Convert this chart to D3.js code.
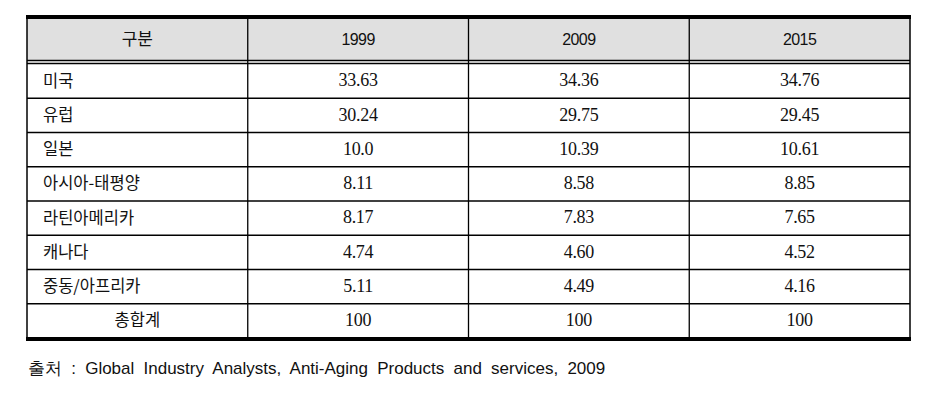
<!DOCTYPE html>
<html><head><meta charset="utf-8">
<script src="https://cdn.jsdelivr.net/npm/d3@7/dist/d3.min.js"></script>
<style>body{margin:0;background:#fff}</style>
</head><body>
<svg id="c" width="932" height="402"></svg>
<script>
const headers = ["구분", "1999", "2009", "2015"];
const regions = ["미국", "유럽", "일본", "아시아-태평양", "라틴아메리카", "캐나다", "중동/아프리카", "총합계"];
const v1999 = ["33.63", "30.24", "10.0", "8.11", "8.17", "4.74", "5.11", "100"];
const v2009 = ["34.36", "29.75", "10.39", "8.58", "7.83", "4.60", "4.49", "100"];
const v2015 = ["34.76", "29.45", "10.61", "8.85", "7.65", "4.52", "4.16", "100"];
const source = "출처 : Global Industry Analysts, Anti-Aging Products and services, 2009";

const svg = d3.select("#c");
const L = 27, R = 910, T = 15, HB = 60, RT = 64, B = 338;
const x = d3.scaleBand().domain(d3.range(headers.length)).range([L, R]);
const y = d3.scaleBand().domain(d3.range(regions.length)).range([RT, B]);
const sans = "'Liberation Sans', Arial, sans-serif";
const kr = "'Noto Sans CJK KR', sans-serif";
const serif = "'Liberation Serif', 'DejaVu Serif', serif";

// header fill
svg.append("rect").attr("x", L).attr("y", T).attr("width", R - L).attr("height", HB - T).attr("fill", "#e0e0e0");

// horizontal row lines
y.domain().slice(1).forEach(i => {
  svg.append("line").attr("x1", L).attr("x2", R).attr("y1", y(i)).attr("y2", y(i)).attr("stroke", "#000").attr("stroke-width", 1.3);
});
// header double line
[HB + 0.5, RT - 0.5].forEach(yy => svg.append("line").attr("x1", L).attr("x2", R).attr("y1", yy).attr("y2", yy).attr("stroke", "#000").attr("stroke-width", 1.3));
// vertical lines
x.domain().slice(1).forEach(i => {
  svg.append("line").attr("x1", x(i)).attr("x2", x(i)).attr("y1", T).attr("y2", B).attr("stroke", "#000").attr("stroke-width", 1.3);
});
svg.append("line").attr("x1", L).attr("x2", L).attr("y1", T).attr("y2", B + 2).attr("stroke", "#000").attr("stroke-width", 1.5);
svg.append("line").attr("x1", R).attr("x2", R).attr("y1", T).attr("y2", B + 2).attr("stroke", "#000").attr("stroke-width", 1.5);
// thick top/bottom
svg.append("line").attr("x1", L - 1).attr("x2", R + 1).attr("y1", T + 2).attr("y2", T + 2).attr("stroke", "#000").attr("stroke-width", 4);
svg.append("line").attr("x1", L - 1).attr("x2", R + 1).attr("y1", B + 1).attr("y2", B + 1).attr("stroke", "#000").attr("stroke-width", 4);

// header text
headers.forEach((h, i) => {
  svg.append("text").attr("x", x(i) + x.bandwidth() / 2).attr("y", (T + HB) / 2 + 3)
    .attr("text-anchor", "middle").attr("dominant-baseline", "middle")
    .attr("font-family", i === 0 ? kr : sans).attr("font-size", i === 0 ? 17 : 16)
    .attr("letter-spacing", i === 0 ? 0 : -0.6)
    .attr("fill", "#111").text(h);
});

// body
const cols = [v1999, v2009, v2015];
regions.forEach((r, j) => {
  const cy = y(j) + y.bandwidth() / 2;
  const last = j === regions.length - 1;
  svg.append("text").attr("x", last ? x(0) + x.bandwidth() / 2 : L + 16).attr("y", cy + 1)
    .attr("text-anchor", last ? "middle" : "start").attr("dominant-baseline", "middle")
    .attr("font-family", kr).attr("font-size", 16.5).attr("fill", "#111").text(r);
  cols.forEach((c, k) => {
    svg.append("text").attr("x", x(k + 1) + x.bandwidth() / 2).attr("y", cy + 1)
      .attr("text-anchor", "middle").attr("dominant-baseline", "middle")
      .attr("font-family", serif).attr("font-size", 18).attr("letter-spacing", -0.3)
      .attr("fill", "#111").text(c[j]);
  });
});

svg.append("text").attr("x", 28).attr("y", 370).attr("dominant-baseline", "middle")
  .attr("font-family", sans).attr("font-size", 17).attr("word-spacing", 4.5).attr("fill", "#111").text(source);
</script>
</body></html>
